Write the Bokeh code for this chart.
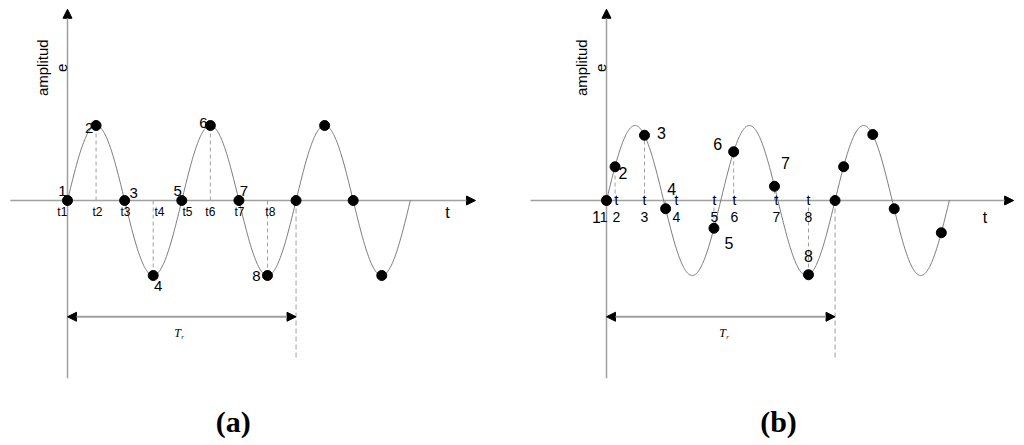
import numpy as np
from bokeh.plotting import figure
from bokeh.layouts import row
from bokeh.models import Arrow, NormalHead, ColumnDataSource, Range1d
from bokeh.core.properties import value
from bokeh.embed import file_html
from bokeh.resources import INLINE

# ---------------- data ----------------
# time unit = a quarter of the signal period
PERIOD = 4.0
AMPLITUDE = 1.0
CYCLES = 3
TR = 8.0  # length of the marked interval T_r

# panel (a): sequential sampling
a_t = [0, 1, 2, 3, 4, 5, 6, 7, 8, 9, 10, 11]
a_y = [0, 1, 0, -1, 0, 1, 0, -1, 0, 1, 0, -1]
a_point_labels = ["1", "2", "3", "4", "5", "6", "7", "8"]
a_tick_t = [-0.18, 1.05, 2.03, 3.22, 4.2, 5.0, 6.02, 7.1]
a_tick_labels = ["t1", "t2", "t3", "t4", "t5", "t6", "t7", "t8"]

# panel (b): random sampling
b_t = [0, 0.3, 1.33, 2.07, 3.76, 4.45, 5.88, 7.07, 8.0, 8.3, 9.32, 10.07, 11.72]
b_y = [0, 0.45, 0.87, -0.11, -0.37, 0.65, 0.19, -0.99, 0, 0.45, 0.88, -0.11, -0.43]
b_point_labels = ["1", "2", "3", "4", "5", "6", "7", "8"]
b_tick_t = [-0.1, 0.35, 1.33, 2.45, 3.78, 4.48, 5.95, 7.07]
b_tick_nums = ["1", "2", "3", "4", "5", "6", "7", "8"]

captions = ["(a)", "(b)"]
ylabel_lines = ["amplitud", "e"]
xlabel = "t"

# ---------------- styling / layout ----------------
GRAY = "#a0a0a0"
CURVE = "#7a7a7a"
SANS = "Liberation Sans"
SERIF = "Liberation Serif"
UNIT_PX = 28.57
HEIGHT = 442
Y1 = 200 / 75.0
Y0 = Y1 - HEIGHT / 75.0

a_label_off = [(-5, -10), (-7, 2), (9, -8), (5, 10), (-4, -10), (-7, -3), (5, -10), (-11, 0)]
b_label_off = [(-10, 16), (8, 6), (17, -2), (6, -20), (15, 15), (-16, -8), (11, -23), (0, -19)]


def make_panel(width, origin_px, x_axis, ts, ys, nlab, label_off, caption, cap_x, tr_x,
               xlab_pos, point_fs, dashed_idx):
    x0 = -origin_px / UNIT_PX
    p = figure(width=width, height=HEIGHT, x_range=Range1d(x0, x0 + width / UNIT_PX),
               y_range=Range1d(Y0, Y1), output_backend="svg", toolbar_location=None,
               x_axis_type=None, y_axis_type=None, min_border=0)
    p.outline_line_color = None
    p.grid.visible = False

    # axes with arrows
    p.add_layout(Arrow(end=NormalHead(size=9, fill_color="black", line_color="black"),
                       x_start=x_axis[0], y_start=0, x_end=x_axis[1], y_end=0,
                       line_color=GRAY, line_width=1.5, level="underlay"))
    p.add_layout(Arrow(end=NormalHead(size=9, fill_color="black", line_color="black"),
                       x_start=0, y_start=-2.37, x_end=0, y_end=2.55,
                       line_color=GRAY, line_width=1.5, level="underlay"))

    # waveform
    tt = np.linspace(0, CYCLES * PERIOD, 600)
    p.line(tt, AMPLITUDE * np.sin(2 * np.pi * tt / PERIOD), line_color=CURVE, line_width=1)

    # dashed projections
    dx = [ts[i] for i in dashed_idx]
    dy = [ys[i] for i in dashed_idx]
    p.segment(x0=dx, y0=[0] * len(dx), x1=dx, y1=dy, line_color=GRAY,
              line_dash="4 3", line_width=1)
    # T_r marker
    p.segment(x0=[TR], y0=[0], x1=[TR], y1=[-2.13], line_color=GRAY, line_dash="5 3", line_width=1)
    p.add_layout(Arrow(start=NormalHead(size=9, fill_color="black", line_color="black"),
                       end=NormalHead(size=9, fill_color="black", line_color="black"),
                       x_start=0, y_start=-1.55, x_end=TR, y_end=-1.55,
                       line_color=GRAY, line_width=2))
    p.text(x=[tr_x], y=[-1.77], text=["T"], text_font=value(SERIF), text_font_style="italic",
           text_font_size="12px", text_align="center", text_baseline="middle", text_color="black")
    p.text(x=[tr_x], y=[-1.77], text=["r"], x_offset=5, y_offset=4, text_font=value(SERIF),
           text_font_style="italic", text_font_size="7px", text_align="center",
           text_baseline="middle", text_color="black")

    # sample dots
    p.scatter(ts, ys, size=10, fill_color="black", line_color="black")

    # point labels
    src = ColumnDataSource(dict(x=ts[:len(nlab)], y=ys[:len(nlab)], t=nlab,
                                xo=[o[0] for o in label_off], yo=[o[1] for o in label_off]))
    p.text(x="x", y="y", text="t", x_offset="xo", y_offset="yo", source=src,
           text_font=value(SANS), text_font_size=point_fs, text_align="center",
           text_baseline="middle", text_color="black")

    # y label (two lines, rotated)
    p.text(x=[0, 0], y=[1.77, 1.77], text=ylabel_lines, x_offset=[-25, -6],
           angle=np.pi / 2, text_font=value(SANS), text_font_size="15px",
           text_align="center", text_baseline="middle", text_color="black")
    # x label
    p.text(x=[xlab_pos[0]], y=[xlab_pos[1]], text=[xlabel], text_font=value(SANS),
           text_font_size="16px", text_align="center", text_baseline="middle", text_color="black")

    # caption
    p.text(x=[cap_x], y=[-2.95], text=[caption], text_font=value(SERIF), text_font_style="bold",
           text_font_size="30px", text_align="center", text_baseline="middle", text_color="black")
    return p


pa = make_panel(504, 67, (-2.0, 14.28), a_t, a_y, a_point_labels, a_label_off,
                captions[0], 5.8, 3.85, (13.3, -0.16), "15px", [1, 3, 5, 7])
pa.text(x=a_tick_t, y=[0] * len(a_tick_t), text=a_tick_labels, y_offset=11,
        text_font=value(SANS), text_font_size="12px", text_align="center",
        text_baseline="middle", text_color="black")

pb = make_panel(516, 102, (-2.66, 14.25), b_t, b_y, b_point_labels, b_label_off,
                captions[1], 6.02, 4.06, (13.25, -0.23), "16px", [1, 2, 3, 4, 5, 6, 7])
pb.text(x=b_tick_t, y=[0] * len(b_tick_t), text=["t"] * len(b_tick_t), y_offset=-1,
        text_font=value(SANS), text_font_size="14px", text_align="center",
        text_baseline="middle", text_color="black")
pb.text(x=b_tick_t, y=[0] * len(b_tick_t), text=b_tick_nums, y_offset=16,
        text_font=value(SANS), text_font_size="14px", text_align="center",
        text_baseline="middle", text_color="black")

layout = row(pa, pb, spacing=0)
open("out.html", "w").write(file_html(layout, INLINE))
